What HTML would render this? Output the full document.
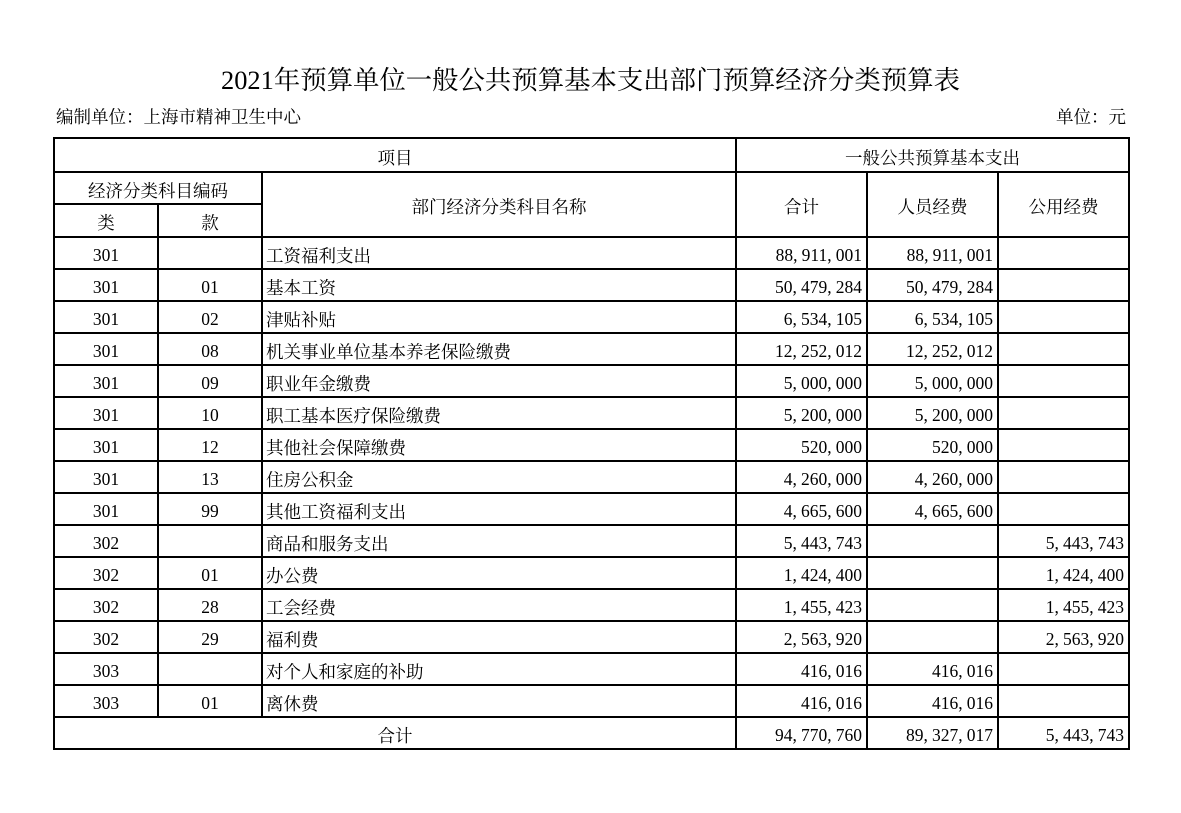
<!DOCTYPE html>
<html lang="zh-CN"><head><meta charset="utf-8">
<style>
html,body{margin:0;padding:0;background:#fff;}
body{width:1181px;height:813px;position:relative;overflow:hidden;font-family:"Liberation Serif","Noto Serif CJK SC",serif;color:#000;}
.z{font-family:"Noto Serif CJK SC","Liberation Serif",serif;}
.h{position:absolute;height:2px;background:#000;}
.v{position:absolute;width:2px;background:#000;}
.c{position:absolute;display:flex;align-items:center;justify-content:center;font-size:17.5px;line-height:1;padding-top:5px;box-sizing:border-box;white-space:nowrap;}
.l{justify-content:flex-start;padding-left:3px;}
.r{justify-content:flex-end;padding-right:4px;}
i{font-style:normal;display:inline-block;width:8.5px;}
.t{position:absolute;font-size:26.4px;line-height:1;left:0;width:1181px;text-align:center;top:65px;white-space:nowrap;}
.s{position:absolute;font-size:17.5px;line-height:1;top:108px;white-space:nowrap;}
</style></head><body>
<div class="t">2021<span class="z">年预算单位一般公共预算基本支出部门预算经济分类预算表</span></div>
<div class="s z" style="left:56px;">编制单位：上海市精神卫生中心</div>
<div class="s z" style="right:55px;">单位：元</div>

<!-- horizontal lines -->
<div class="h" style="left:53px;width:1077px;top:137px;"></div>
<div class="h" style="left:53px;width:1077px;top:171px;"></div>
<div class="h" style="left:53px;width:210px;top:203px;"></div>
<div class="h" style="left:53px;width:1077px;top:236px;"></div>
<div class="h" style="left:53px;width:1077px;top:268px;"></div>
<div class="h" style="left:53px;width:1077px;top:300px;"></div>
<div class="h" style="left:53px;width:1077px;top:332px;"></div>
<div class="h" style="left:53px;width:1077px;top:364px;"></div>
<div class="h" style="left:53px;width:1077px;top:396px;"></div>
<div class="h" style="left:53px;width:1077px;top:428px;"></div>
<div class="h" style="left:53px;width:1077px;top:460px;"></div>
<div class="h" style="left:53px;width:1077px;top:492px;"></div>
<div class="h" style="left:53px;width:1077px;top:524px;"></div>
<div class="h" style="left:53px;width:1077px;top:556px;"></div>
<div class="h" style="left:53px;width:1077px;top:588px;"></div>
<div class="h" style="left:53px;width:1077px;top:620px;"></div>
<div class="h" style="left:53px;width:1077px;top:652px;"></div>
<div class="h" style="left:53px;width:1077px;top:684px;"></div>
<div class="h" style="left:53px;width:1077px;top:716px;"></div>
<div class="h" style="left:53px;width:1077px;top:748px;"></div>

<!-- vertical lines -->
<div class="v" style="left:53px;top:137px;height:613px;"></div>
<div class="v" style="left:1128px;top:137px;height:613px;"></div>
<div class="v" style="left:735px;top:137px;height:613px;"></div>
<div class="v" style="left:866px;top:171px;height:579px;"></div>
<div class="v" style="left:997px;top:171px;height:579px;"></div>
<div class="v" style="left:157px;top:203px;height:515px;"></div>
<div class="v" style="left:261px;top:171px;height:547px;"></div>

<!-- header -->
<div class="c z" style="left:55px;width:680px;top:139px;height:32px;">项目</div>
<div class="c z" style="left:737px;width:391px;top:139px;height:32px;">一般公共预算基本支出</div>
<div class="c z" style="left:55px;width:206px;top:173px;height:30px;">经济分类科目编码</div>
<div class="c z" style="left:55px;width:102px;top:205px;height:31px;">类</div>
<div class="c z" style="left:159px;width:102px;top:205px;height:31px;">款</div>
<div class="c z" style="left:263px;width:472px;top:173px;height:63px;">部门经济分类科目名称</div>
<div class="c z" style="left:737px;width:129px;top:173px;height:63px;">合计</div>
<div class="c z" style="left:868px;width:129px;top:173px;height:63px;">人员经费</div>
<div class="c z" style="left:999px;width:129px;top:173px;height:63px;">公用经费</div>

<!-- rows -->
<div class="c" style="left:55px;width:102px;top:238px;height:30px;">301</div>
<div class="c l z" style="left:263px;width:472px;top:238px;height:30px;">工资福利支出</div>
<div class="c r" style="left:737px;width:129px;top:238px;height:30px;">88<i>,</i>911<i>,</i>001</div>
<div class="c r" style="left:868px;width:129px;top:238px;height:30px;">88<i>,</i>911<i>,</i>001</div>

<div class="c" style="left:55px;width:102px;top:270px;height:30px;">301</div>
<div class="c" style="left:159px;width:102px;top:270px;height:30px;">01</div>
<div class="c l z" style="left:263px;width:472px;top:270px;height:30px;">基本工资</div>
<div class="c r" style="left:737px;width:129px;top:270px;height:30px;">50<i>,</i>479<i>,</i>284</div>
<div class="c r" style="left:868px;width:129px;top:270px;height:30px;">50<i>,</i>479<i>,</i>284</div>

<div class="c" style="left:55px;width:102px;top:302px;height:30px;">301</div>
<div class="c" style="left:159px;width:102px;top:302px;height:30px;">02</div>
<div class="c l z" style="left:263px;width:472px;top:302px;height:30px;">津贴补贴</div>
<div class="c r" style="left:737px;width:129px;top:302px;height:30px;">6<i>,</i>534<i>,</i>105</div>
<div class="c r" style="left:868px;width:129px;top:302px;height:30px;">6<i>,</i>534<i>,</i>105</div>

<div class="c" style="left:55px;width:102px;top:334px;height:30px;">301</div>
<div class="c" style="left:159px;width:102px;top:334px;height:30px;">08</div>
<div class="c l z" style="left:263px;width:472px;top:334px;height:30px;">机关事业单位基本养老保险缴费</div>
<div class="c r" style="left:737px;width:129px;top:334px;height:30px;">12<i>,</i>252<i>,</i>012</div>
<div class="c r" style="left:868px;width:129px;top:334px;height:30px;">12<i>,</i>252<i>,</i>012</div>

<div class="c" style="left:55px;width:102px;top:366px;height:30px;">301</div>
<div class="c" style="left:159px;width:102px;top:366px;height:30px;">09</div>
<div class="c l z" style="left:263px;width:472px;top:366px;height:30px;">职业年金缴费</div>
<div class="c r" style="left:737px;width:129px;top:366px;height:30px;">5<i>,</i>000<i>,</i>000</div>
<div class="c r" style="left:868px;width:129px;top:366px;height:30px;">5<i>,</i>000<i>,</i>000</div>

<div class="c" style="left:55px;width:102px;top:398px;height:30px;">301</div>
<div class="c" style="left:159px;width:102px;top:398px;height:30px;">10</div>
<div class="c l z" style="left:263px;width:472px;top:398px;height:30px;">职工基本医疗保险缴费</div>
<div class="c r" style="left:737px;width:129px;top:398px;height:30px;">5<i>,</i>200<i>,</i>000</div>
<div class="c r" style="left:868px;width:129px;top:398px;height:30px;">5<i>,</i>200<i>,</i>000</div>

<div class="c" style="left:55px;width:102px;top:430px;height:30px;">301</div>
<div class="c" style="left:159px;width:102px;top:430px;height:30px;">12</div>
<div class="c l z" style="left:263px;width:472px;top:430px;height:30px;">其他社会保障缴费</div>
<div class="c r" style="left:737px;width:129px;top:430px;height:30px;">520<i>,</i>000</div>
<div class="c r" style="left:868px;width:129px;top:430px;height:30px;">520<i>,</i>000</div>

<div class="c" style="left:55px;width:102px;top:462px;height:30px;">301</div>
<div class="c" style="left:159px;width:102px;top:462px;height:30px;">13</div>
<div class="c l z" style="left:263px;width:472px;top:462px;height:30px;">住房公积金</div>
<div class="c r" style="left:737px;width:129px;top:462px;height:30px;">4<i>,</i>260<i>,</i>000</div>
<div class="c r" style="left:868px;width:129px;top:462px;height:30px;">4<i>,</i>260<i>,</i>000</div>

<div class="c" style="left:55px;width:102px;top:494px;height:30px;">301</div>
<div class="c" style="left:159px;width:102px;top:494px;height:30px;">99</div>
<div class="c l z" style="left:263px;width:472px;top:494px;height:30px;">其他工资福利支出</div>
<div class="c r" style="left:737px;width:129px;top:494px;height:30px;">4<i>,</i>665<i>,</i>600</div>
<div class="c r" style="left:868px;width:129px;top:494px;height:30px;">4<i>,</i>665<i>,</i>600</div>

<div class="c" style="left:55px;width:102px;top:526px;height:30px;">302</div>
<div class="c l z" style="left:263px;width:472px;top:526px;height:30px;">商品和服务支出</div>
<div class="c r" style="left:737px;width:129px;top:526px;height:30px;">5<i>,</i>443<i>,</i>743</div>
<div class="c r" style="left:999px;width:129px;top:526px;height:30px;">5<i>,</i>443<i>,</i>743</div>

<div class="c" style="left:55px;width:102px;top:558px;height:30px;">302</div>
<div class="c" style="left:159px;width:102px;top:558px;height:30px;">01</div>
<div class="c l z" style="left:263px;width:472px;top:558px;height:30px;">办公费</div>
<div class="c r" style="left:737px;width:129px;top:558px;height:30px;">1<i>,</i>424<i>,</i>400</div>
<div class="c r" style="left:999px;width:129px;top:558px;height:30px;">1<i>,</i>424<i>,</i>400</div>

<div class="c" style="left:55px;width:102px;top:590px;height:30px;">302</div>
<div class="c" style="left:159px;width:102px;top:590px;height:30px;">28</div>
<div class="c l z" style="left:263px;width:472px;top:590px;height:30px;">工会经费</div>
<div class="c r" style="left:737px;width:129px;top:590px;height:30px;">1<i>,</i>455<i>,</i>423</div>
<div class="c r" style="left:999px;width:129px;top:590px;height:30px;">1<i>,</i>455<i>,</i>423</div>

<div class="c" style="left:55px;width:102px;top:622px;height:30px;">302</div>
<div class="c" style="left:159px;width:102px;top:622px;height:30px;">29</div>
<div class="c l z" style="left:263px;width:472px;top:622px;height:30px;">福利费</div>
<div class="c r" style="left:737px;width:129px;top:622px;height:30px;">2<i>,</i>563<i>,</i>920</div>
<div class="c r" style="left:999px;width:129px;top:622px;height:30px;">2<i>,</i>563<i>,</i>920</div>

<div class="c" style="left:55px;width:102px;top:654px;height:30px;">303</div>
<div class="c l z" style="left:263px;width:472px;top:654px;height:30px;">对个人和家庭的补助</div>
<div class="c r" style="left:737px;width:129px;top:654px;height:30px;">416<i>,</i>016</div>
<div class="c r" style="left:868px;width:129px;top:654px;height:30px;">416<i>,</i>016</div>

<div class="c" style="left:55px;width:102px;top:686px;height:30px;">303</div>
<div class="c" style="left:159px;width:102px;top:686px;height:30px;">01</div>
<div class="c l z" style="left:263px;width:472px;top:686px;height:30px;">离休费</div>
<div class="c r" style="left:737px;width:129px;top:686px;height:30px;">416<i>,</i>016</div>
<div class="c r" style="left:868px;width:129px;top:686px;height:30px;">416<i>,</i>016</div>

<div class="c z" style="left:55px;width:680px;top:718px;height:30px;">合计</div>
<div class="c r" style="left:737px;width:129px;top:718px;height:30px;">94<i>,</i>770<i>,</i>760</div>
<div class="c r" style="left:868px;width:129px;top:718px;height:30px;">89<i>,</i>327<i>,</i>017</div>
<div class="c r" style="left:999px;width:129px;top:718px;height:30px;">5<i>,</i>443<i>,</i>743</div>
</body></html>
